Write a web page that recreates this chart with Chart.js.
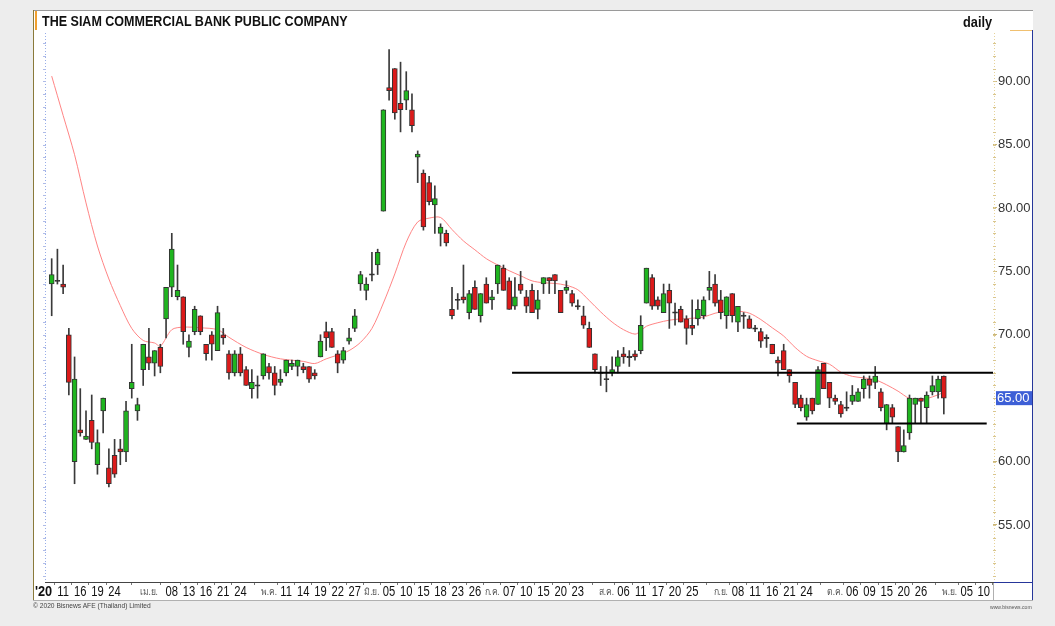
<!DOCTYPE html>
<html>
<head>
<meta charset="utf-8">
<script src="https://cdn.jsdelivr.net/npm/chart.js@4/dist/chart.umd.min.js"></script>
<style>
  html, body { margin: 0; padding: 0; background: #ededed; }
  #wrap { position: relative; width: 1055px; height: 626px; overflow: hidden; }
  #c { position: absolute; left: 0; top: 0; }
  .txt { position: absolute; white-space: nowrap; font-family: "Liberation Sans", Arial, sans-serif; transform-origin: left top; }
  #title { left: 42px; top: 12px; font-size: 15px; font-weight: bold; color: #111; transform: scaleX(0.835); }
  #freq { left: 963px; top: 13px; font-size: 15px; font-weight: bold; color: #111; transform: scaleX(0.85); }
  #copy { left: 33px; top: 602px; font-size: 7px; color: #444; transform: scaleX(0.95); }
  #site { left: 990px; top: 604px; font-size: 6px; color: #555; transform: scaleX(0.85); }
</style>
</head>
<body>
<div id="wrap">
  <canvas id="c" width="1055" height="626"></canvas>
  <div class="txt" id="title">THE SIAM COMMERCIAL BANK PUBLIC COMPANY</div>
  <div class="txt" id="freq">daily</div>
  <div class="txt" id="copy">© 2020 Bisnews AFE (Thailand) Limited</div>
  <div class="txt" id="site">www.bisnews.com</div>
</div>
<script>
// daily candles, one per trading day (index 0 = 9 Mar 2020)
const opens = [74.0,74.25,74.0,70.0,60.0,62.5,61.75,63.25,59.75,64.0,
  59.5,60.5,61.0,60.75,65.75,64.0,67.25,68.25,67.75,69.0,
  71.25,73.75,73.0,73.0,69.0,70.25,71.5,69.25,70.0,68.75,
  70.0,68.5,67.0,68.5,67.25,65.75,66.0,66.75,67.5,67.0,
  66.25,67.0,67.5,67.5,67.5,67.5,67.0,68.25,70.25,70.25,
  68.5,68.0,69.5,70.5,74.0,73.5,74.75,75.5,79.75,89.5,
  91.0,88.25,88.5,87.75,84.0,82.75,82.0,80.25,78.0,78.0,
  72.0,72.75,73.0,71.75,73.75,71.5,74.0,72.75,74.0,75.25,
  74.25,72.25,74.0,73.0,73.5,72.0,74.0,74.5,74.75,73.5,
  73.5,73.25,72.25,71.5,70.5,68.5,67.0,66.5,67.0,67.5,
  68.5,68.25,68.5,68.75,72.5,74.5,72.75,71.75,73.5,71.75,
  72.0,71.25,70.75,71.25,71.5,73.5,74.0,72.75,71.5,73.25,
  71.0,71.5,71.25,70.5,70.25,69.75,69.25,68.0,68.75,67.25,
  66.25,65.0,63.5,65.0,64.5,67.75,66.25,65.0,64.5,64.25,
  64.75,64.75,65.75,66.5,66.25,65.5,63.0,64.25,62.75,60.75,
  62.25,64.5,65.0,64.25,65.5,65.5,66.75];
const highs = [76.0,76.75,75.5,70.5,68.25,65.75,64.0,65.25,62.5,65.0,
  61.0,61.75,61.75,64.75,69.25,65.0,69.25,70.5,68.75,69.25,
  73.75,78.0,75.5,73.0,70.0,72.25,71.5,69.25,70.25,72.25,
  70.5,68.75,68.75,69.0,67.5,67.25,66.75,68.5,67.75,67.5,
  67.25,68.0,68.0,68.0,67.75,67.5,67.25,70.0,71.0,70.5,
  68.75,69.0,70.5,72.0,75.0,74.5,76.5,76.75,87.75,92.5,
  91.0,91.5,90.75,89.0,84.5,83.0,82.5,81.75,78.75,78.25,
  73.75,73.25,75.5,73.5,74.25,73.25,74.5,73.5,75.5,75.5,
  74.5,74.5,75.0,73.5,74.0,73.5,74.5,74.5,74.75,73.5,
  74.25,73.5,72.75,72.25,71.0,68.5,67.5,67.5,68.25,68.75,
  69.0,68.75,68.75,71.5,75.25,74.75,73.0,74.0,74.0,72.5,
  72.25,71.5,72.75,72.75,73.0,75.0,74.75,73.5,73.0,73.25,
  72.25,71.75,71.5,70.75,70.5,70.0,69.25,68.25,69.25,67.25,
  66.25,65.25,65.0,65.0,67.5,67.75,66.25,65.25,64.75,65.5,
  66.0,65.75,66.75,66.75,67.5,65.75,64.5,64.5,62.75,62.5,
  65.25,65.0,65.0,65.5,66.75,66.75,66.75];
const lows = [71.5,74.0,73.25,65.25,58.25,62.0,61.75,61.0,59.0,62.25,
  58.0,58.75,59.75,60.0,65.0,63.25,66.0,67.25,66.75,67.0,
  69.75,73.0,72.75,69.25,68.25,70.0,70.0,68.0,68.0,68.75,
  69.25,66.5,66.75,66.75,66.0,65.0,65.0,66.5,66.5,65.25,
  66.0,66.75,67.25,66.75,67.0,66.25,66.5,68.25,68.75,69.0,
  67.0,67.75,69.25,70.25,73.5,72.75,74.25,74.75,79.75,88.5,
  87.0,86.0,87.75,86.0,82.0,78.25,80.25,78.0,77.0,77.0,
  71.25,72.0,72.5,71.25,72.0,71.0,72.5,72.0,73.25,73.5,
  72.0,72.0,73.25,71.75,71.75,71.25,73.25,73.25,73.25,71.75,
  73.25,72.25,72.0,70.5,69.0,67.0,66.0,65.5,66.75,67.0,
  67.75,67.5,68.0,68.5,72.5,72.0,72.0,71.75,70.5,70.75,
  71.0,69.25,70.0,70.75,71.25,72.75,72.25,71.25,70.5,71.0,
  70.25,70.5,70.5,70.25,69.0,69.0,68.5,66.75,67.25,66.25,
  64.25,64.0,63.25,63.75,64.5,65.75,64.25,64.5,63.5,64.0,
  64.5,64.75,65.0,65.0,65.75,64.0,62.5,63.0,60.0,60.75,
  61.75,63.0,63.0,63.0,65.25,65.0,63.75];
const closes = [74.75,74.25,73.75,66.25,66.5,62.25,62.0,61.5,61.5,65.0,
  58.25,59.0,60.75,64.0,66.25,64.5,69.25,67.75,68.75,67.5,
  73.75,76.75,73.5,70.25,69.5,72.0,70.25,68.5,69.25,71.75,
  69.75,67.0,68.5,67.0,66.0,66.25,66.0,68.5,67.0,66.0,
  66.5,68.0,67.75,68.0,67.25,66.5,66.75,69.5,69.75,69.0,
  67.75,68.75,69.75,71.5,74.75,74.0,74.75,76.5,87.75,89.25,
  87.5,87.75,89.25,86.5,84.25,78.5,80.5,80.75,78.5,77.25,
  71.5,72.75,72.75,73.25,72.0,73.25,72.5,73.0,75.5,73.5,
  72.0,73.0,73.5,72.25,71.75,72.75,74.5,74.25,74.25,71.75,
  73.75,72.5,72.25,70.75,69.0,67.25,67.0,66.5,67.25,68.25,
  68.25,68.25,68.25,70.75,75.25,72.25,72.25,73.25,72.5,71.75,
  71.0,70.5,70.5,72.0,72.75,73.75,72.5,71.75,73.0,71.5,
  72.25,71.5,70.5,70.5,69.5,69.75,68.5,67.75,67.25,66.75,
  64.5,64.25,64.5,64.0,67.25,65.75,65.0,64.75,63.75,64.25,
  65.25,65.5,66.5,66.0,66.75,64.25,64.5,63.5,60.75,61.25,
  65.0,65.0,64.75,65.25,66.0,66.5,65.0];

// moving average (candle index, value)
const maIndex = [0,2,4,6,8,10,12,14,16,18,19,21,23,26,29,31,34,37,40,44,46,48,50,52,54,56,58,60,62,64,66,68,70,72,74,76,78,80,82,84,86,88,90,92,94,96,98,100,102,103,104,106,108,110,112,114,116,118,120,122,124,126,128,130,132,134,136,138,140,142,144,146,148,150,152,154,156];
const maValue = [90.4,87.3,84.2,80.4,77.0,74.4,72.3,70.5,69.55,69.35,69.1,70.4,70.6,70.55,70.4,69.8,69.0,68.45,68.1,67.9,67.73,68.1,68.4,68.75,69.4,70.5,72.5,74.8,77.3,78.9,79.2,79.25,78.3,77.4,76.7,76.0,75.5,75.05,74.65,74.25,74.1,74.05,73.9,73.55,72.7,71.8,71.0,70.4,70.05,70.3,70.67,70.95,71.15,71.25,71.3,71.4,71.7,71.86,71.86,71.7,71.2,70.55,69.9,69.0,68.3,67.95,67.68,67.05,66.72,66.6,66.45,66.05,65.55,64.98,64.9,65.1,65.45];

// horizontal levels drawn on the chart
const levelValue = [67.0, 63.0];
const levelFrom = [80.5, 130.3];
const levelTo = [164.6, 163.5];

// x axis labels and the candle they sit under
const tickIndex = [2,5,8,11,17,21,24,27,30,33,38,41,44,47,50,53,56,59,62,65,68,71,74,77,80,83,86,89,92,97,100,103,106,109,112,117,120,123,126,129,132,137,140,143,146,149,152,157,160,163];
const tickText = ['11','16','19','24','เม.ย.','08','13','16','21','24','พ.ค.','11','14','19','22','27','มิ.ย.','05','10','15','18','23','26','ก.ค.','07','10','15','20','23','ส.ค.','06','11','17','20','25','ก.ย.','08','11','16','21','24','ต.ค.','06','09','15','20','26','พ.ย.','05','10'];
const yTicks = [55, 60, 65, 70, 75, 80, 85, 90];
const lastPrice = 65.00;

const UP = '#1fb51f', DOWN = '#dc1a1a';

let wicks = [], bodies = [], bodyColors = [];
opens.forEach((o, i) => {
    let c = closes[i];
    wicks.push({ x: i, y: [lows[i], highs[i]] });
    if (o === c) {
        bodies.push({ x: i, y: [o - 0.05, o + 0.05] });
        bodyColors.push('#222');
    } else {
        bodies.push({ x: i, y: [o, c] });
        bodyColors.push(c > o ? UP : DOWN);
    }
});

let levelSets = levelValue.map((v, i) => ({
    type: 'line',
    data: [{ x: levelFrom[i], y: v }, { x: levelTo[i], y: v }],
    borderColor: '#000', borderWidth: 2, pointRadius: 0, order: 0
}));

//frame, side axes, date labels and price tag
const frame = {
    id: 'frame',
    beforeDraw(chart) {
        let c = chart.ctx, a = chart.chartArea;
        c.save();
        c.fillStyle = '#ededed';
        c.fillRect(0, 0, chart.width, chart.height);
        c.fillStyle = '#fff';
        c.fillRect(33, 10, 1000, 590);
        c.strokeStyle = '#9a9a9a'; c.lineWidth = 1;
        c.beginPath(); c.moveTo(33, 10.5); c.lineTo(1033, 10.5); c.stroke();
        c.strokeStyle = '#8a7a3a';
        c.beginPath(); c.moveTo(33.5, 10); c.lineTo(33.5, 600); c.stroke();
        c.strokeStyle = '#f0a030'; c.lineWidth = 2;
        c.beginPath(); c.moveTo(36, 11); c.lineTo(36, 30); c.stroke();
        c.lineWidth = 1;
        c.strokeStyle = '#26369a';
        c.beginPath(); c.moveTo(1032.5, 30); c.lineTo(1032.5, 600); c.stroke();
        c.beginPath(); c.moveTo(a.right, a.bottom + 0.5); c.lineTo(1033, a.bottom + 0.5); c.stroke();
        c.strokeStyle = '#f0c070';
        c.beginPath(); c.moveTo(1010, 30.5); c.lineTo(1032, 30.5); c.stroke();
        c.strokeStyle = '#b0b0b0';
        c.beginPath(); c.moveTo(33, 600.5); c.lineTo(1033, 600.5); c.stroke();
        c.beginPath(); c.moveTo(a.right + 0.5, a.bottom); c.lineTo(a.right + 0.5, 600); c.stroke();
        c.restore();
    },
    afterDraw(chart) {
        let c = chart.ctx, a = chart.chartArea, y = chart.scales.y, x = chart.scales.x;
        c.save();
        // left dotted axis
        c.strokeStyle = '#98ade8'; c.setLineDash([1, 2]);
        c.beginPath(); c.moveTo(a.left + 0.5, a.top); c.lineTo(a.left + 0.5, a.bottom); c.stroke();
        // right dotted axis
        c.strokeStyle = '#e6d39a';
        c.beginPath(); c.moveTo(a.right + 1.5, a.top); c.lineTo(a.right + 1.5, a.bottom); c.stroke();
        c.setLineDash([]);
        for (let v = 51; v <= 93; v++) {
            let p = Math.round(y.getPixelForValue(v)) + 0.5;
            c.strokeStyle = '#aebbe8';
            c.beginPath(); c.moveTo(a.left - 2, p); c.lineTo(a.left + 1, p); c.stroke();
            c.strokeStyle = '#d9c68e';
            c.beginPath(); c.moveTo(a.right, p); c.lineTo(a.right + 3, p); c.stroke();
        }
        // date labels, narrow
        c.textAlign = 'center';
        c.textBaseline = 'middle';
        tickIndex.forEach((v, i) => {
            let t = tickText[i], month = t.includes('.');
            c.save();
            c.translate(x.getPixelForValue(v), a.bottom + 10);
            c.scale(month ? 0.95 : 0.8, 1);
            c.font = month ? '9px "Noto Sans", "DejaVu Sans", sans-serif' : '14px "Liberation Sans", Arial';
            c.fillStyle = month ? '#555' : '#111';
            c.fillText(t, 0, 0);
            c.restore();
        });
        // year mark
        c.save();
        c.translate(35, a.bottom + 10);
        c.scale(0.85, 1);
        c.textAlign = 'left';
        c.fillStyle = '#111';
        c.font = 'bold 15px "Liberation Sans", Arial';
        c.fillText("'20", 0, 0);
        c.restore();
        // last price tag
        let py = y.getPixelForValue(lastPrice);
        c.fillStyle = '#3d5fd6';
        c.fillRect(a.right + 3, py - 7, 36, 14);
        c.fillStyle = '#fff';
        c.textAlign = 'left';
        c.font = '13px "Liberation Sans", Arial';
        c.fillText(lastPrice.toFixed(2), a.right + 4, py + 0.5);
        c.restore();
    }
};

new Chart(document.getElementById('c'), {
    type: 'bar',
    data: {
        datasets: [
            {
                type: 'line', data: maIndex.map((x, i) => ({ x: x, y: maValue[i] })),
                borderColor: '#ff8585', borderWidth: 1, pointRadius: 0, tension: 0.3, order: 3
            },
            {
                data: wicks, backgroundColor: '#3a3a3a', barThickness: 1,
                grouped: false, order: 2
            },
            {
                data: bodies, backgroundColor: bodyColors, borderColor: '#333',
                borderWidth: 1, borderSkipped: false, barThickness: 5, grouped: false, order: 1
            },
            ...levelSets
        ]
    },
    options: {
        responsive: false,
        animation: false,
        layout: { padding: { left: 45, top: 33, right: 22, bottom: 26 } },
        plugins: { legend: { display: false }, tooltip: { enabled: false } },
        scales: {
            x: {
                type: 'linear', min: -1.17, max: 164.6, offset: false,
                afterBuildTicks: s => { s.ticks = tickIndex.map(v => ({ value: v })); },
                afterFit: s => { s.height = 18; },
                grid: { drawOnChartArea: false, tickLength: 3, color: '#777' },
                border: { display: true, color: '#444' },
                ticks: { display: false }
            },
            y: {
                type: 'linear', position: 'right', min: 50.5, max: 93.8,
                afterBuildTicks: s => { s.ticks = yTicks.map(v => ({ value: v })); },
                afterFit: s => { s.width = 40; },
                grid: { drawOnChartArea: false, tickLength: 4, color: '#c9b678' },
                border: { display: false },
                ticks: {
                    padding: 1, color: '#333',
                    font: { family: '"Liberation Sans", Arial', size: 13 },
                    callback: v => v.toFixed(2)
                }
            }
        }
    },
    plugins: [frame]
});
</script>
</body>
</html>
